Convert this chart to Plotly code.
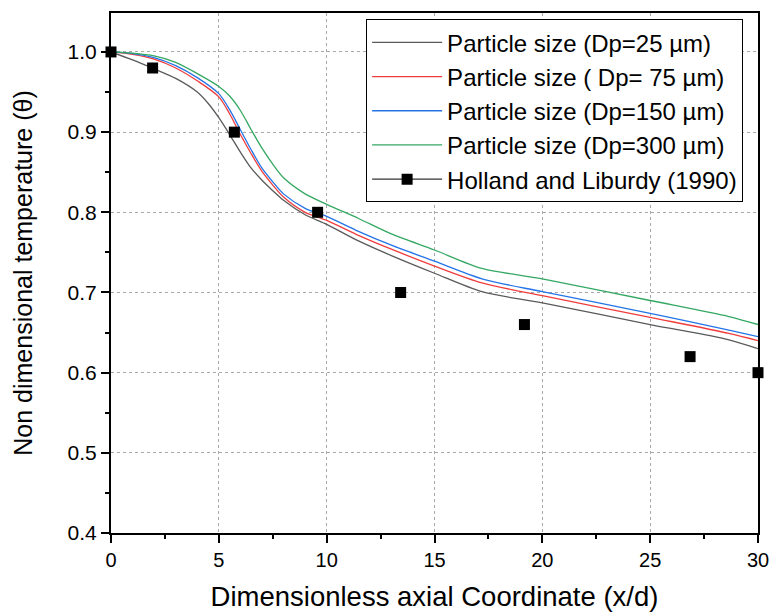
import plotly.graph_objects as go

# Simulated centreline temperature decay for several particle sizes
x_25 = [0, 1, 1.9, 3, 4, 4.5, 5, 5.5, 6, 6.5, 7, 7.5, 8, 9, 10, 11.5, 13, 15, 17.2, 20, 25, 28.65, 30]
y_25 = [1.0, 0.99, 0.98, 0.967, 0.95, 0.936, 0.918, 0.897, 0.875, 0.855, 0.84, 0.827, 0.815, 0.797, 0.785, 0.764, 0.746, 0.724, 0.701, 0.687, 0.66, 0.641, 0.63]

x_75 = [0, 1, 2, 3, 4, 5, 5.5, 6, 6.5, 7, 7.5, 8, 9, 10, 11.5, 13, 15, 17.2, 20, 25, 28.65, 30]
y_75 = [1.0, 0.997, 0.991, 0.98, 0.964, 0.944, 0.923, 0.897, 0.873, 0.851, 0.834, 0.819, 0.80, 0.79, 0.771, 0.754, 0.733, 0.712, 0.696, 0.669, 0.649, 0.64]

x_150 = [0, 1, 2, 3, 4, 5, 5.5, 6, 6.5, 7, 7.5, 8, 9, 10, 11.5, 13, 15, 17.2, 20, 25, 28.65, 30]
y_150 = [1.0, 0.998, 0.993, 0.983, 0.968, 0.948, 0.928, 0.903, 0.878, 0.855, 0.838, 0.823, 0.805, 0.795, 0.776, 0.759, 0.739, 0.717, 0.701, 0.674, 0.653, 0.645]

x_300 = [0, 1, 2, 3, 4, 5, 5.5, 6, 6.5, 7, 7.5, 8, 9, 10, 11.5, 13, 15, 17.2, 20, 25, 28.65, 30]
y_300 = [1.0, 0.9985, 0.995, 0.987, 0.973, 0.957, 0.945, 0.927, 0.903, 0.88, 0.86, 0.843, 0.823, 0.81, 0.792, 0.773, 0.753, 0.730, 0.717, 0.69, 0.67, 0.66]

# Experimental data, Holland and Liburdy (1990)
x_exp = [0, 1.93, 5.72, 9.58, 13.43, 19.17, 26.85, 30]
y_exp = [1.0, 0.98, 0.90, 0.80, 0.70, 0.66, 0.62, 0.60]

FONT = "Liberation Sans, Arial, sans-serif"

series = [
    ("Particle size (Dp=25 µm)", x_25, y_25, "#5a5a5a"),
    ("Particle size ( Dp= 75 µm)", x_75, y_75, "#f03c3c"),
    ("Particle size (Dp=150 µm)", x_150, y_150, "#2474e6"),
    ("Particle size (Dp=300 µm)", x_300, y_300, "#34a862"),
]

fig = go.Figure()
for name, xs, ys, col in series:
    fig.add_trace(go.Scatter(
        x=xs, y=ys, name=name, mode="lines",
        line=dict(color=col, width=1.3, shape="spline", smoothing=0.8),
    ))

fig.add_trace(go.Scatter(
    x=x_exp, y=y_exp, mode="markers", showlegend=False, cliponaxis=False,
    marker=dict(symbol="square", size=11, color="black"),
))
# legend entry for the experimental set (line + square symbol)
fig.add_trace(go.Scatter(
    x=[None], y=[None], mode="lines+markers", name="Holland and Liburdy (1990)",
    line=dict(color="#333333", width=1.3),
    marker=dict(symbol="square", size=11, color="black"),
))

axis_common = dict(
    showline=True, linecolor="black", linewidth=2, mirror=True,
    ticks="outside", ticklen=8, tickwidth=2, tickcolor="black",
    showgrid=True, gridcolor="#a8a8a8", gridwidth=1, griddash="3px,3px",
    zeroline=False, automargin=False,
)

fig.update_xaxes(
    **axis_common,
    range=[0, 30], tick0=0, dtick=5,
    tickfont=dict(family=FONT, size=20, color="black"),
    minor=dict(ticks="outside", ticklen=4, tickwidth=2, tickcolor="black", dtick=2.5, showgrid=False),
    title=dict(text="Dimensionless axial Coordinate (x/d)", font=dict(family=FONT, size=27.5, color="black"), standoff=17),
)
fig.update_yaxes(
    **axis_common,
    range=[0.4, 1.0486], tick0=0.4, dtick=0.1, tickformat=".1f",
    tickfont=dict(family=FONT, size=21, color="black"),
    minor=dict(ticks="outside", ticklen=4, tickwidth=2, tickcolor="black", dtick=0.05, showgrid=False),
    title=dict(text="Non dimensional temperature (θ)", font=dict(family=FONT, size=25, color="black"), standoff=28),
)

fig.update_layout(
    width=771, height=615,
    margin=dict(l=111, r=13, t=13, b=82),
    paper_bgcolor="white", plot_bgcolor="white",
    font=dict(family=FONT, color="black"),
    legend=dict(
        x=0.977, y=0.988, xanchor="right", yanchor="top",
        bgcolor="white", bordercolor="black", borderwidth=1,
        font=dict(family=FONT, size=24, color="black"),
        tracegroupgap=0, itemwidth=70,
    ),
)

fig.write_html("out.html")
